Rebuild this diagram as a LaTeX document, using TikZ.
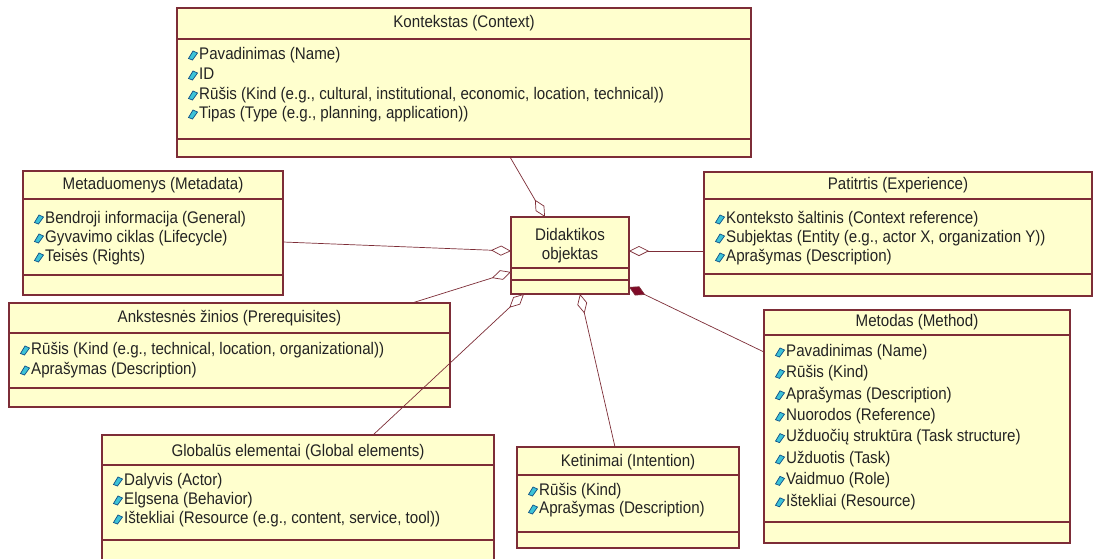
\documentclass[tikz,border=0pt]{standalone}
\usepackage{fontspec}
\setmainfont{Liberation Sans}[FakeStretch=0.9]
\usetikzlibrary{arrows.meta,calc}
\definecolor{boxfill}{RGB}{255,255,206}
\definecolor{boxline}{RGB}{125,45,55}
\definecolor{txt}{RGB}{35,35,35}
\definecolor{icofill}{RGB}{60,195,215}
\definecolor{icoline}{RGB}{15,80,135}
\definecolor{compfill}{RGB}{128,10,40}
\tikzset{
  x=1pt, y=-1pt,
  classbox/.style={draw=boxline, fill=boxfill, line width=1.2pt, inner sep=0pt, outer sep=0pt, rectangle},
  compline/.style={draw=boxline, line width=1.2pt},
  titletext/.style={inner sep=0pt, text=txt, font=\fontsize{16.8}{19}\selectfont},
  attrtext/.style={inner sep=0pt, anchor=west, text=txt, text height=12pt, text depth=3.5pt, font=\fontsize{16.8}{19}\selectfont},
  icon/.style={fill=icofill, draw=icoline, line width=0.7pt},
  assoc/.style={draw=boxline, line width=0.7pt, {Diamond[open, fill=white, length=20pt, width=10pt]}-},
  compo/.style={draw=boxline, line width=0.7pt, {Diamond[fill=compfill, length=18pt, width=10pt]}-},
}
\newcommand{\umlbox}[9]{%
  \node[classbox, minimum width={(#4-#2)*1pt}, minimum height={(#5-#3)*1pt}] (#1) at ({(#2+#4)/2},{(#3+#5)/2}) {};
  \draw[compline] (#2,#7) -- (#4,#7);
  \draw[compline] (#2,#8) -- (#4,#8);
  \node[titletext] (#1-title) at ({(#2+#4)/2},#6) {#9};
}
\newcommand{\attr}[4]{%
  \filldraw[icon] ({#2+11.5},{#3+3.5}) -- ({#2+16},{#3-4}) -- ({#2+20.5},{#3-2}) -- ({#2+15.5},{#3+5}) -- cycle;
  \node[attrtext] (#1) at ({#2+22},#3) {#4};
}
\begin{document}
\begin{tikzpicture}
\clip (0,0) rectangle (1095,558);
\fill[white] (0,0) rectangle (1095,558);

% Kontekstas
\umlbox{ctx}{177}{8}{751}{157}{23}{39}{139}{Kontekstas (Context)}
\attr{ctx-a1}{177}{55}{Pavadinimas (Name)}
\attr{ctx-a2}{177}{75}{ID}
\attr{ctx-a3}{177}{95}{Rūšis (Kind (e.g., cultural, institutional, economic, location, technical))}
\attr{ctx-a4}{177}{114}{Tipas (Type (e.g., planning, application))}

% Metaduomenys
\umlbox{meta}{23}{171}{283}{295}{185}{199}{275}{Metaduomenys (Metadata)}
\attr{meta-a1}{23}{219}{Bendroji informacija (General)}
\attr{meta-a2}{23}{238}{Gyvavimo ciklas (Lifecycle)}
\attr{meta-a3}{23}{257}{Teisės (Rights)}

% Patirtis
\umlbox{exp}{704}{172}{1092}{296}{185}{199}{274}{Patitrtis (Experience)}
\attr{exp-a1}{704}{219}{Konteksto šaltinis (Context reference)}
\attr{exp-a2}{704}{238}{Subjektas (Entity (e.g., actor X, organization Y))}
\attr{exp-a3}{704}{257}{Aprašymas (Description)}

% Didaktikos objektas
\node[classbox, minimum width=118pt, minimum height=77pt] (ctr) at (570,255.5) {};
\draw[compline] (511,268) -- (629,268);
\draw[compline] (511,280) -- (629,280);
\node[titletext, align=center] (ctr-title) at (570,246) {Didaktikos\\objektas};

% Ankstesnes zinios
\umlbox{pre}{9}{303}{450}{407}{318}{333}{388}{Ankstesnės žinios (Prerequisites)}
\attr{pre-a1}{9}{350}{Rūšis (Kind (e.g., technical, location, organizational))}
\attr{pre-a2}{9}{370}{Aprašymas (Description)}

% Globalus elementai
\umlbox{glob}{102}{435}{494}{562}{452}{465}{540}{Globalūs elementai (Global elements)}
\attr{glob-a1}{102}{481}{Dalyvis (Actor)}
\attr{glob-a2}{102}{500}{Elgsena (Behavior)}
\attr{glob-a3}{102}{519}{Ištekliai (Resource (e.g., content, service, tool))}

% Ketinimai
\umlbox{int}{517}{447}{739}{548}{462}{475}{532}{Ketinimai (Intention)}
\attr{int-a1}{517}{491}{Rūšis (Kind)}
\attr{int-a2}{517}{509}{Aprašymas (Description)}

% Metodas
\umlbox{meth}{764}{310}{1070}{543}{322}{335}{522}{Metodas (Method)}
\attr{meth-a1}{764}{352}{Pavadinimas (Name)}
\attr{meth-a2}{764}{373.4}{Rūšis (Kind)}
\attr{meth-a3}{764}{394.8}{Aprašymas (Description)}
\attr{meth-a4}{764}{416.2}{Nuorodos (Reference)}
\attr{meth-a5}{764}{437.6}{Užduočių struktūra (Task structure)}
\attr{meth-a6}{764}{459}{Užduotis (Task)}
\attr{meth-a7}{764}{480.4}{Vaidmuo (Role)}
\attr{meth-a8}{764}{501.8}{Ištekliai (Resource)}

% connectors
\draw[assoc] ($(ctr.north west)+(34,0)$) -- ($(ctx.south west)+(333,0)$);
\draw[assoc] ($(ctr.north west)+(0,34)$) -- ($(meta.north east)+(0,71)$);
\draw[assoc] ($(ctr.north west)+(0,55)$) -- ($(pre.north west)+(403,0)$);
\draw[assoc] ($(ctr.south west)+(13,0)$) -- ($(glob.north west)+(271,0)$);
\draw[assoc] ($(ctr.south west)+(69,0)$) -- ($(int.north west)+(98,0)$);
\draw[assoc] ($(ctr.north east)+(0,34)$) -- ($(exp.north west)+(0,79)$);
\draw[compo] ($(ctr.north east)+(0,70)$) -- ($(meth.north west)+(0,42)$);
\end{tikzpicture}
\end{document}
